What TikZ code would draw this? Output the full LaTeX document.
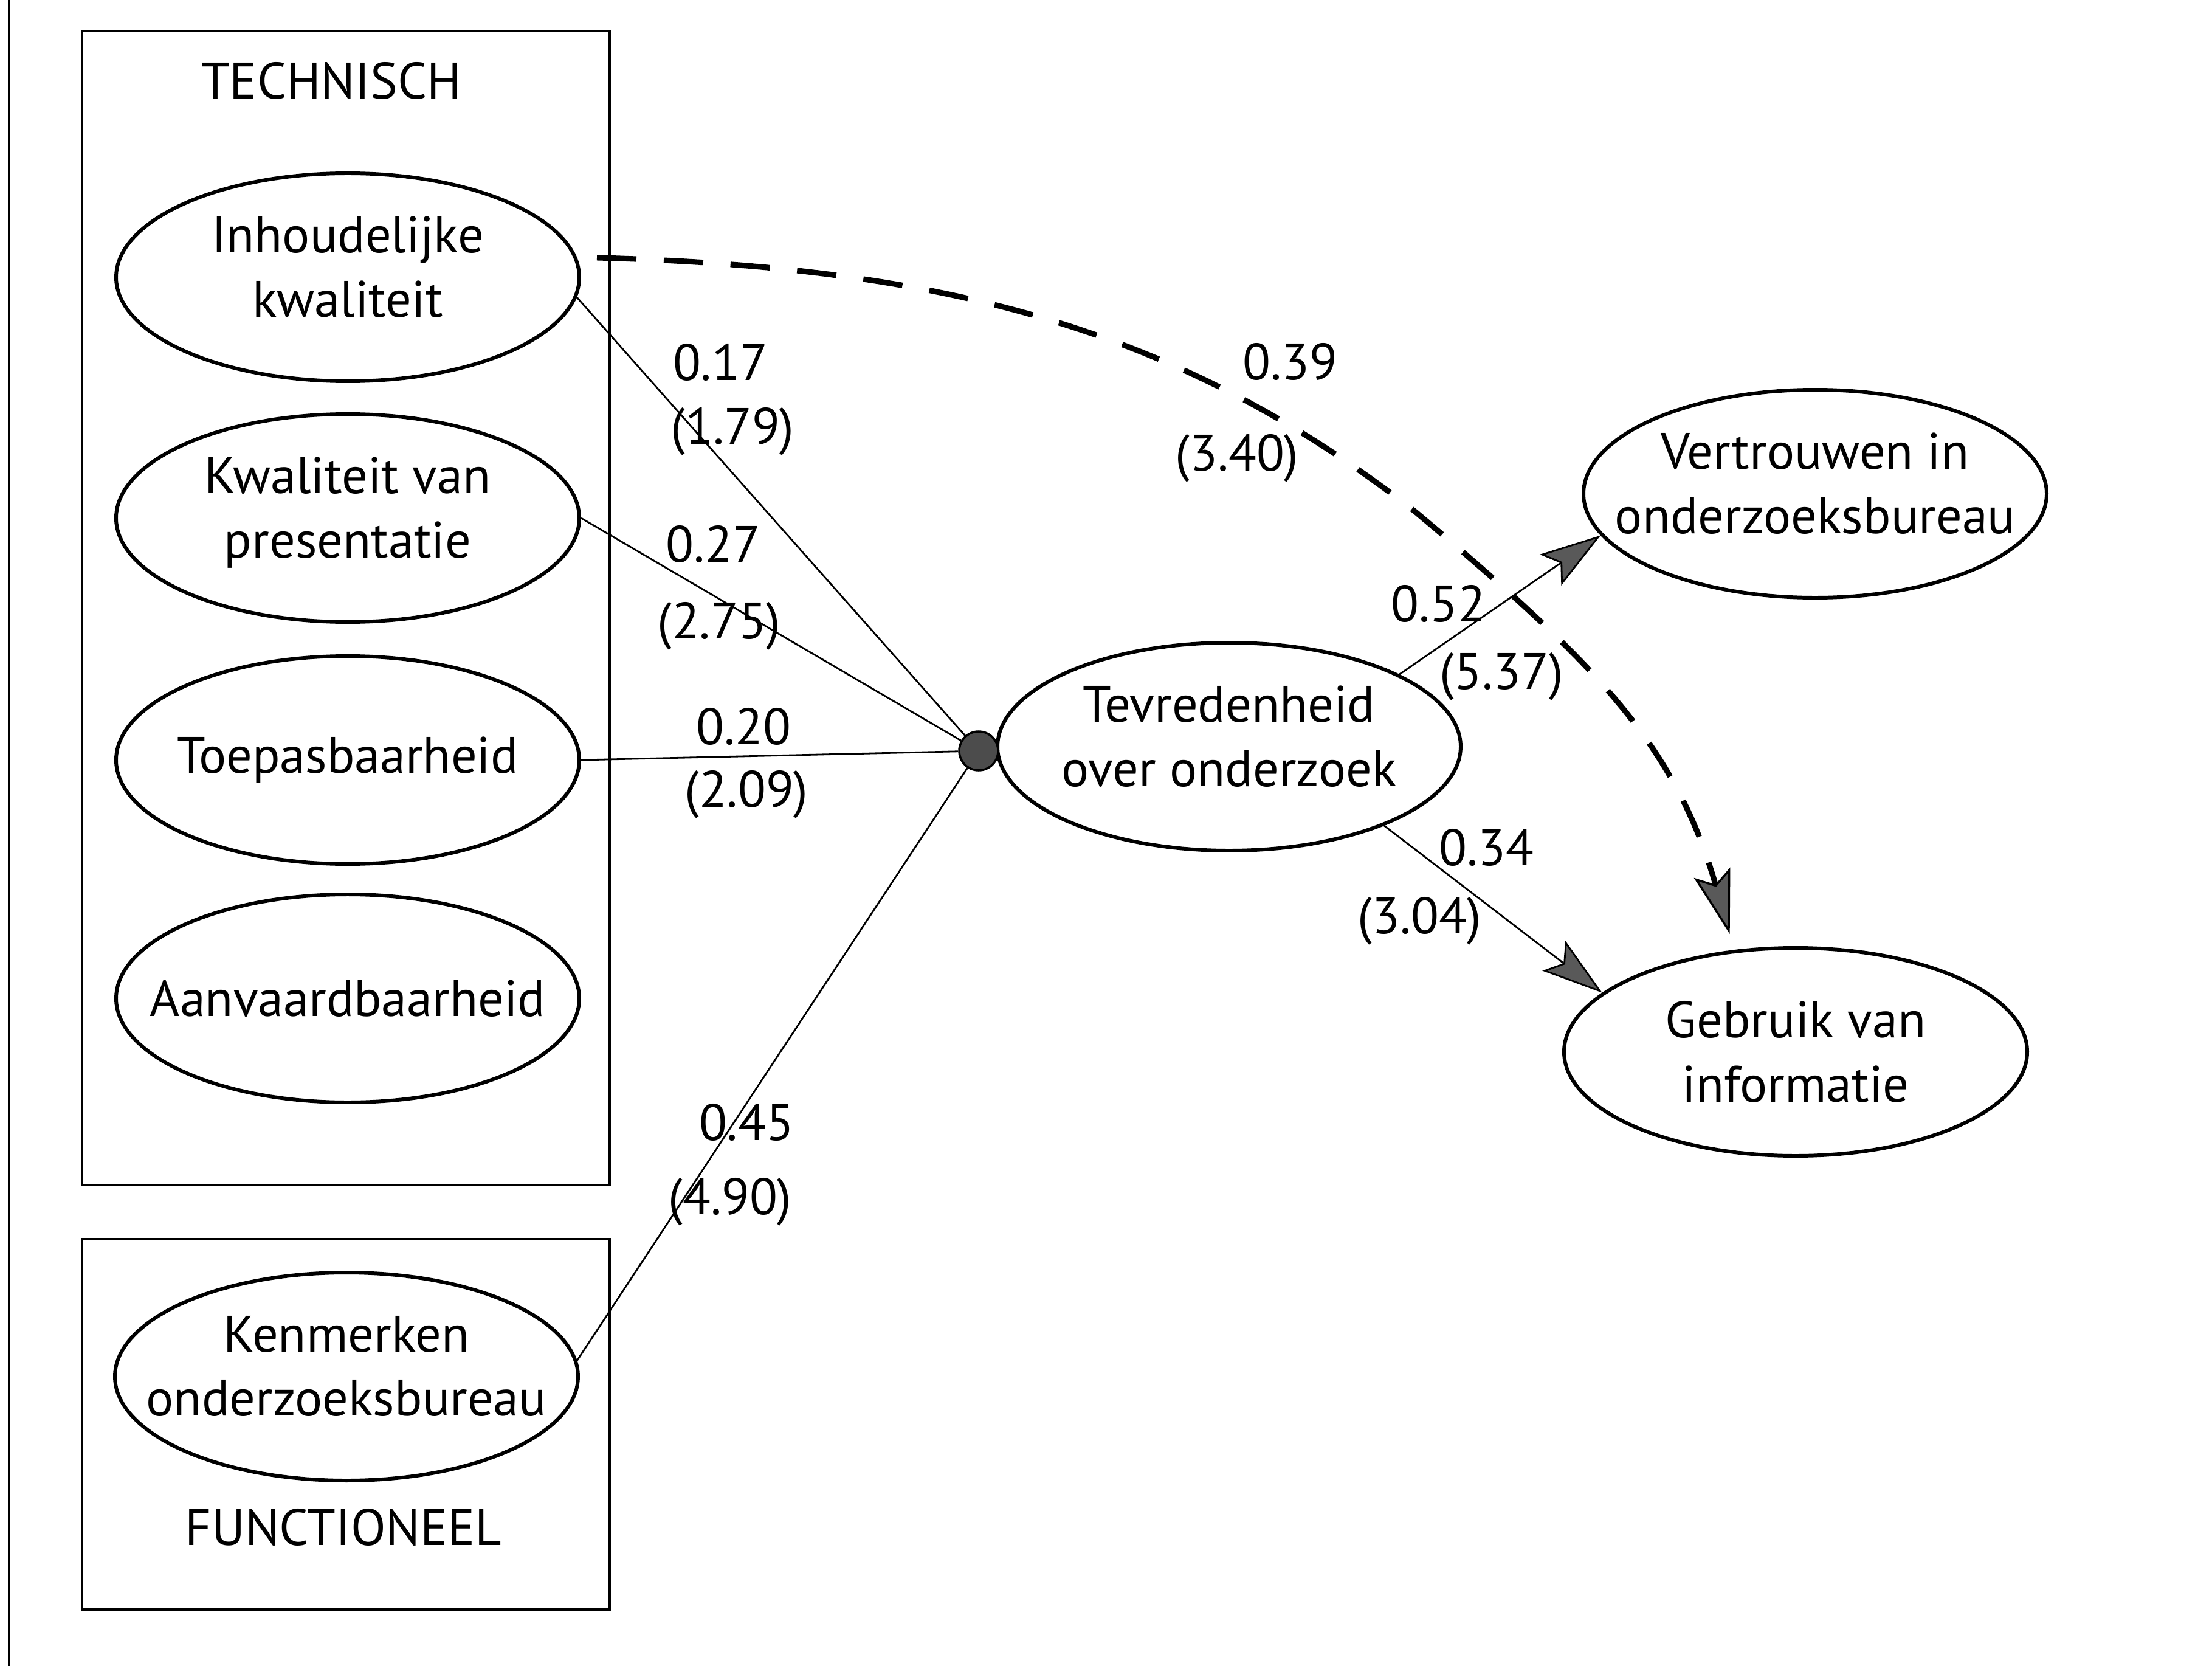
\documentclass[tikz,border=0pt]{standalone}
\usepackage{fontspec}
\setmainfont{PT Sans}
\usetikzlibrary{arrows.meta,shapes.geometric}
\newcommand{\lowpad}{\rule[-3.5mm]{0pt}{0pt}}

\begin{document}
\begin{tikzpicture}[x=1cm,y=1cm]
\tikzset{
  latent/.style={ellipse,draw=black,line width=1.7pt,minimum width=7.62cm,minimum height=3.42cm,inner xsep=-1.5cm,inner ysep=-0.5cm,align=center,font=\fontsize{24}{30}\selectfont},
  junction/.style={circle,draw=black,fill=black!70,line width=1pt,minimum size=6.4mm,inner sep=0pt},
  coef/.style={inner sep=0pt,font=\fontsize{24}{30}\selectfont},
  grouplabel/.style={inner sep=0pt,font=\fontsize{24}{30}\selectfont},
  groupframe/.style={draw=black,line width=1.1pt},
  pathedge/.style={draw=black,line width=0.8pt},
  effect/.style={pathedge,-{Stealth[length=10mm,width=6.2mm,inset=2mm,fill=black!65]}},
  indirect/.style={draw=black,line width=2.6pt,dash pattern=on 6.5mm off 4.5mm,-{Stealth[length=10.5mm,width=6.2mm,inset=2mm,fill=black!65,line width=1pt]}}
}
\useasboundingbox (0,0) rectangle (36.39,-27.40);
\draw[groupframe] (0.15,0) -- (0.15,-27.40);
\draw[groupframe] (1.35,-0.51) rectangle (10.03,-19.49);
\draw[groupframe] (1.35,-20.38) rectangle (10.03,-26.47);
\node[grouplabel] (g_tech) at (5.45,-1.33) {TECHNISCH};
\node[grouplabel] (g_func) at (5.65,-25.12) {FUNCTIONEEL};
\node[latent] (n_inh) at (5.72,-4.56) {Inhoudelijke\\kwaliteit\lowpad};
\node[latent] (n_kwa) at (5.72,-8.52) {Kwaliteit van\\presentatie\lowpad};
\node[latent] (n_toe) at (5.72,-12.50) {Toepasbaarheid};
\node[latent] (n_aan) at (5.72,-16.42) {Aanvaardbaarheid};
\node[latent] (n_ken) at (5.70,-22.64) {Kenmerken\\onderzoeksbureau\lowpad};
\node[latent] (n_tev) at (20.22,-12.28) {Tevredenheid\\over onderzoek\lowpad};
\node[latent] (n_ver) at (29.86,-8.12) {Vertrouwen in\\onderzoeksbureau\lowpad};
\node[latent] (n_geb) at (29.54,-17.30) {Gebruik van\\informatie};
\node[junction] (n_dot) at (16.10,-12.35) {};
\draw[pathedge] (n_inh.-5) -- (n_dot);
\draw[pathedge] (n_kwa.east) -- (n_dot);
\draw[pathedge] (n_toe.east) -- (n_dot);
\draw[pathedge] (n_ken.4) -- (n_dot);
\draw[effect] (n_tev.23) -- (n_ver.191);
\draw[effect] (n_tev.-27) -- (n_geb.163);
\draw[indirect,shorten <=3.3mm,shorten >=2.7mm] (n_inh.5) .. controls (15.42,-4.39) and (19.36,-5.35) .. (23.30,-8.43) .. controls (26.21,-10.87) and (27.55,-12.22) .. (n_geb.121);
\node[coef] (c_inh) at (11.85,-5.96) {0.17};
\node[coef] (t_inh) at (12.05,-7.10) {(1.79)};
\node[coef] (c_kwa) at (11.73,-8.95) {0.27};
\node[coef] (t_kwa) at (11.83,-10.30) {(2.75)};
\node[coef] (c_toe) at (12.23,-11.95) {0.20};
\node[coef] (t_toe) at (12.28,-13.07) {(2.09)};
\node[coef] (c_ken) at (12.28,-18.46) {0.45};
\node[coef] (t_ken) at (12.01,-19.77) {(4.90)};
\node[coef] (c_dir) at (21.22,-5.95) {0.39};
\node[coef] (t_dir) at (20.35,-7.54) {(3.40)};
\node[coef] (c_ver) at (23.66,-9.93) {0.52};
\node[coef] (t_ver) at (24.70,-11.13) {(5.37)};
\node[coef] (c_geb) at (24.45,-13.94) {0.34};
\node[coef] (t_geb) at (23.35,-15.15) {(3.04)};
\end{tikzpicture}
\end{document}
